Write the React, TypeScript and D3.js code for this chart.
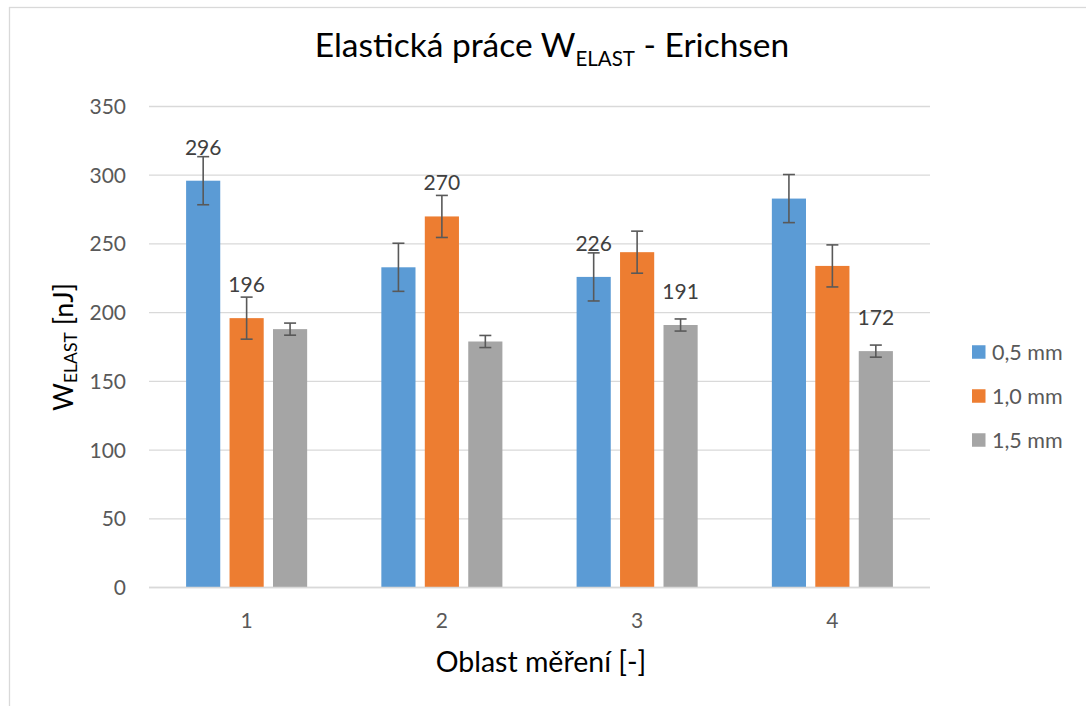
import React from "react";
import * as d3 from "d3";

const categories = ["1", "2", "3", "4"];
const seriesNames = ["0,5 mm", "1,0 mm", "1,5 mm"];
const values05 = [296, 233, 226, 283];
const values10 = [196, 270, 244, 234];
const values15 = [188, 179, 191, 172];
const errors = [17.5, 15.3, 4.4];
const showLabel05 = [true, false, true, false];
const showLabel10 = [true, true, false, false];
const showLabel15 = [false, false, true, true];
const yTicks = [0, 50, 100, 150, 200, 250, 300, 350];
const colors = ["#5b9bd5", "#ed7d31", "#a5a5a5"];

const FONT = "Lato, 'Open Sans', sans-serif";

export default function App() {
  const W = 1086;
  const H = 706;
  const plotL = 149;
  const plotR = 930;
  const plotT = 106.5;
  const plotB = 587.5;

  const seriesValues = [values05, values10, values15];
  const seriesLabels = [showLabel05, showLabel10, showLabel15];

  const x0 = d3.scaleBand<string>().domain(categories).range([plotL, plotR]).paddingInner(0).paddingOuter(0);
  const groupW = x0.bandwidth() * 0.62;
  const x1 = d3
    .scaleBand<string>()
    .domain(seriesNames)
    .range([-groupW / 2, groupW / 2])
    .paddingInner(0.214)
    .paddingOuter(0);
  const y = d3.scaleLinear().domain([0, 350]).range([plotB, plotT]);

  return (
    <svg
      width={W}
      height={H}
      style={{ position: "absolute", left: 0, top: 0, background: "#fff" }}
      fontFamily={FONT}
    >
      <rect x={9.5} y={7.5} width={1200} height={800} fill="#fff" stroke="#d9d9d9" strokeWidth={1.3} />

      {/* Title */}
      <text x={552} y={57} textAnchor="middle" fontSize={33.5} fill="#000">
        Elastická práce W
        <tspan fontSize={20.5} dy={9}>ELAST</tspan>
        <tspan dy={-9}> - Erichsen</tspan>
      </text>

      {/* gridlines */}
      {yTicks.map((t) => (
        <line
          key={t}
          x1={plotL}
          x2={plotR}
          y1={y(t)}
          y2={y(t)}
          stroke="#d9d9d9"
          strokeWidth={1.3}
        />
      ))}

      {/* y tick labels */}
      {yTicks.map((t) => (
        <text
          key={"yl" + t}
          x={126}
          y={y(t)}
          dy="0.36em"
          textAnchor="end"
          fontSize={21}
          fill="#595959"
        >
          {t}
        </text>
      ))}

      {/* bars */}
      {seriesValues.map((vals, si) =>
        vals.map((v, ci) => {
          const cx = (x0(categories[ci]) as number) + x0.bandwidth() / 2;
          const bx = cx + (x1(seriesNames[si]) as number);
          return (
            <rect
              key={`b${si}-${ci}`}
              x={bx}
              y={y(v)}
              width={x1.bandwidth()}
              height={y(0) - y(v)}
              fill={colors[si]}
            />
          );
        })
      )}

      {/* axis line */}
      <line x1={plotL} x2={plotR} y1={plotB} y2={plotB} stroke="#d9d9d9" strokeWidth={1.3} />

      {/* error bars */}
      {seriesValues.map((vals, si) =>
        vals.map((v, ci) => {
          const cx = (x0(categories[ci]) as number) + x0.bandwidth() / 2;
          const mx = cx + (x1(seriesNames[si]) as number) + x1.bandwidth() / 2;
          const e = errors[si];
          return (
            <g key={`e${si}-${ci}`} stroke="#595959" strokeWidth={1.6}>
              <line x1={mx} x2={mx} y1={y(v + e)} y2={y(v - e)} />
              <line x1={mx - 6} x2={mx + 6} y1={y(v + e)} y2={y(v + e)} />
              <line x1={mx - 6} x2={mx + 6} y1={y(v - e)} y2={y(v - e)} />
            </g>
          );
        })
      )}

      {/* data labels */}
      {seriesValues.map((vals, si) =>
        vals.map((v, ci) => {
          if (!seriesLabels[si][ci]) return null;
          const cx = (x0(categories[ci]) as number) + x0.bandwidth() / 2;
          const mx = cx + (x1(seriesNames[si]) as number) + x1.bandwidth() / 2;
          return (
            <text
              key={`l${si}-${ci}`}
              x={mx}
              y={y(v) - 26}
              textAnchor="middle"
              fontSize={21}
              fill="#404040"
            >
              {v}
            </text>
          );
        })
      )}

      {/* x tick labels */}
      {categories.map((c) => (
        <text
          key={"xl" + c}
          x={(x0(c) as number) + x0.bandwidth() / 2}
          y={628}
          textAnchor="middle"
          fontSize={21}
          fill="#595959"
        >
          {c}
        </text>
      ))}

      {/* x axis title */}
      <text x={541} y={672} textAnchor="middle" fontSize={28.5} fill="#000">
        Oblast měření [-]
      </text>

      {/* y axis title */}
      <text
        transform={`translate(73, 347) rotate(-90)`}
        textAnchor="middle"
        fontSize={27}
        fill="#000"
      >
        W
        <tspan fontSize={17.5} dy={4}>ELAST</tspan>
        <tspan dy={-4}> [nJ]</tspan>
      </text>

      {/* legend */}
      {seriesNames.map((n, i) => (
        <g key={"lg" + n} transform={`translate(972, ${352 + i * 44})`}>
          <rect x={0} y={-6.75} width={13.5} height={13.5} fill={colors[i]} />
          <text x={20} y={0} dy="0.36em" fontSize={21.5} fill="#595959">
            {n}
          </text>
        </g>
      ))}
    </svg>
  );
}
